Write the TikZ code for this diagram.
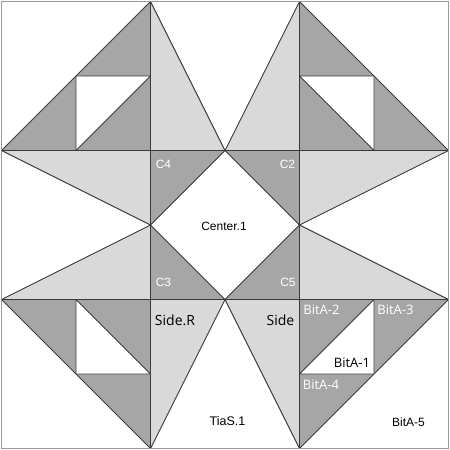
\documentclass[tikz,border=0pt]{standalone}
\usepackage{fontspec}
\setmainfont{Liberation Sans}
\newfontfamily\labfont{Open Sans}
\definecolor{lightpiece}{HTML}{D9D9D9}
\definecolor{darkpiece}{HTML}{A6A6A6}
\definecolor{edgecol}{HTML}{3A3A3A}
\definecolor{bordercol}{HTML}{9A9A9A}
\begin{document}
\begin{tikzpicture}[x=1pt,y=-1pt,
  piece/.style={draw=edgecol,line width=0.9pt,line join=round},
  lightp/.style={piece,fill=lightpiece},
  darkp/.style={piece,fill=darkpiece},
  whitep/.style={piece,fill=white},
  arial/.style={inner sep=0pt,font=\fontsize{12}{14}\selectfont},
  opensans/.style={inner sep=0pt,font=\labfont\fontsize{13}{15}\selectfont},
  sidelab/.style={inner sep=0pt,font=\labfont\fontsize{14}{16}\selectfont},
  wlab/.style={text=white}]
\useasboundingbox (0,0) rectangle (450,450);
\fill[white] (0,0) rectangle (450,450);
\begin{scope}[shift={(1.5,1.5)},scale=74.5]
  % top-left
  \draw[darkp] (0,2) -- (2,0) -- (2,2) -- cycle;
  \draw[whitep] (1,1) -- (2,1) -- (1,2) -- cycle;
  \draw[lightp] (2,0) -- (3,2) -- (2,2) -- cycle;
  \draw[lightp] (0,2) -- (2,2) -- (2,3) -- cycle;
  \draw[darkp] (2,2) -- (3,2) -- (2,3) -- cycle;
  % top-right
  \draw[lightp] (4,0) -- (3,2) -- (4,2) -- cycle;
  \draw[darkp] (4,0) -- (6,2) -- (4,2) -- cycle;
  \draw[whitep] (4,1) -- (5,1) -- (5,2) -- cycle;
  \draw[lightp] (4,2) -- (6,2) -- (4,3) -- cycle;
  \draw[darkp] (3,2) -- (4,2) -- (4,3) -- cycle;
  % bottom-left
  \draw[lightp] (0,4) -- (2,3) -- (2,4) -- cycle;
  \draw[darkp] (2,3) -- (3,4) -- (2,4) -- cycle;
  \draw[lightp] (2,4) -- (3,4) -- (2,6) -- cycle;
  \draw[darkp] (0,4) -- (2,4) -- (2,6) -- cycle;
  \draw[whitep] (1,4) -- (1,5) -- (2,5) -- cycle;
  % bottom-right
  \draw[darkp] (3,4) -- (4,3) -- (4,4) -- cycle;
  \draw[lightp] (4,3) -- (6,4) -- (4,4) -- cycle;
  \draw[lightp] (3,4) -- (4,4) -- (4,6) -- cycle;
  \draw[darkp] (4,4) -- (6,4) -- (4,6) -- cycle;
  \draw[whitep] (5,4) -- (4,5) -- (5,5) -- cycle;
  % border
  \draw[bordercol,line width=1.5pt] (0,0) rectangle (6,6);
\end{scope}
% labels
\node[arial,wlab] (c4) at (163.5,164) {C4};
\node[arial,wlab] (c2) at (287.5,164) {C2};
\node[arial,wlab] (c3) at (163.5,282.5) {C3};
\node[arial,wlab] (c5) at (288,282.5) {C5};
\node[arial] (center) at (224,226) {Center.1};
\node[sidelab] (sider) at (175,320) {Side.R};
\node[sidelab] (side) at (280.5,320) {Side};
\node[opensans,wlab] (bita2) at (321.5,310) {BitA-2};
\node[opensans,wlab] (bita3) at (395.5,310) {BitA-3};
\node[opensans] (bita1) at (352,363) {BitA-1};
\node[opensans,wlab] (bita4) at (321,385) {BitA-4};
\node[arial] (bita5) at (408.5,422) {BitA-5};
\node[arial,font=\fontsize{12.5}{15}\selectfont] (tias) at (227.5,421) {TiaS.1};
\end{tikzpicture}
\end{document}
